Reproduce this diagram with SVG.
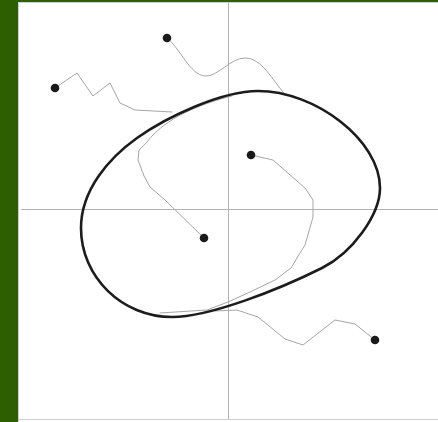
<svg xmlns="http://www.w3.org/2000/svg" width="438" height="422" viewBox="0 0 438 422">
<style>
.axis{stroke:#b4b4b4;stroke-width:1;fill:none}
.walk{stroke:#a6a6a6;stroke-width:1;fill:none;stroke-linejoin:round;stroke-linecap:round}
.cycle{stroke:#1c1c1c;stroke-width:2.6;fill:none}
.dot{fill:#1a1a1a}
</style>
<rect x="0" y="0" width="438" height="422" fill="#ffffff"/>
<rect x="0" y="0" width="18" height="422" fill="#2d5e00"/>
<rect x="0" y="0" width="438" height="2" fill="#2d5e00"/>
<path d="M18.5,422 V2.5 H438 M18.5,419.5 H438" stroke="#cfcfcf" stroke-width="1" fill="none"/>
<g id="axes">
<line class="axis" x1="21" y1="209.5" x2="438" y2="209.5"/>
<line class="axis" x1="228.5" y1="3" x2="228.5" y2="419"/>
</g>
<g id="connectors">
<path class="walk" d="M55,88 L77,73 L93,96 L110,83 L120,103 L135,110 L172,112"/>
<path class="walk" d="M167,38 C180,48 190,75 205,76 C218,77 230,58 245,58 C262,58 272,80 284,93"/>
<path class="walk" d="M204,238 L165,200 L150,187 L144,176 L138,160 L139,150 L147,142 C165,118 200,104 232,96"/>
<path class="walk" d="M251,155 L273,160 L305,188 L313,200 L313,217 L305,245 L300,253 L291,268 L275,280 L250,292 L228,302 L207,310 L160,313"/>
<path class="walk" d="M375,340 L355,324 L335,320 L303,345 L285,339 L258,317 L237,310 L215,311"/>
</g>
<g id="limit-cycle">
<path class="cycle" d="M81,228 C81,190 109,158 137,138 C167,116.6 222,91 258,91 C315,91 380,140 380,188 C380,215 352,253 322,268 C280,289 210,317 172,317 C122,317 81,277 81,228 Z"/>
</g>
<g id="node-a"><circle class="dot" cx="55" cy="88" r="4.3"/></g>
<g id="node-b"><circle class="dot" cx="167" cy="38" r="4.3"/></g>
<g id="node-c"><circle class="dot" cx="251" cy="155" r="4.3"/></g>
<g id="node-d"><circle class="dot" cx="204" cy="238" r="4.3"/></g>
<g id="node-e"><circle class="dot" cx="375" cy="340" r="4.3"/></g>
</svg>
